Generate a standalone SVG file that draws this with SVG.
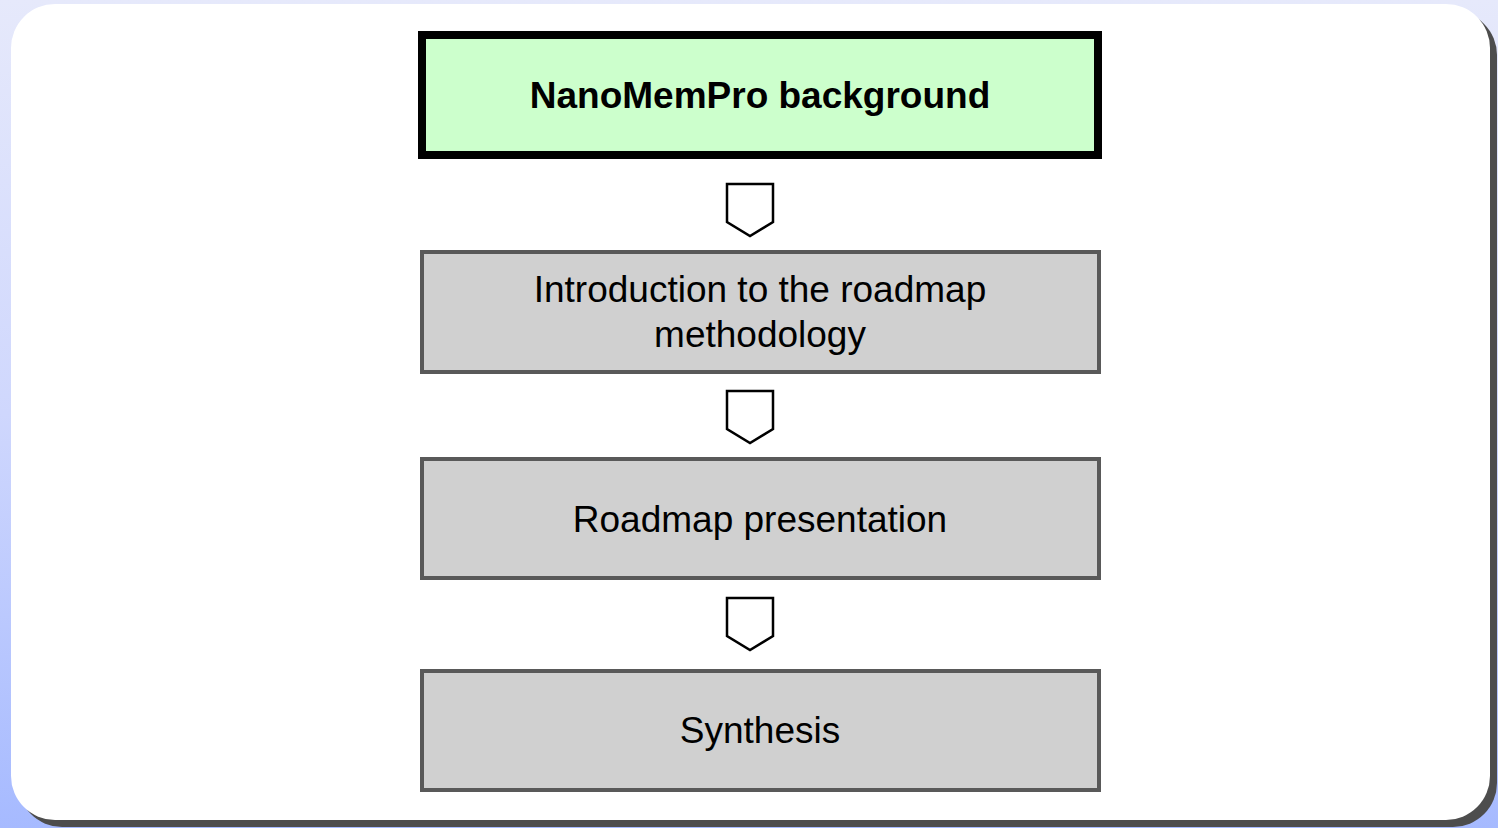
<svg xmlns="http://www.w3.org/2000/svg" width="1498" height="828" viewBox="0 0 1498 828">
<defs>
<linearGradient id="bg" x1="0" y1="0" x2="0" y2="1">
<stop offset="0" stop-color="#e6e9fb"/>
<stop offset="0.5" stop-color="#cfd7fd"/>
<stop offset="1" stop-color="#a6baff"/>
</linearGradient>
<style>
.box{fill:#d0d0d0;stroke:#595959;stroke-width:4}
.t{font-family:"Liberation Sans",Arial,sans-serif;font-size:37px;fill:#000;text-anchor:middle}
.arr{fill:#fff;stroke:#000;stroke-width:2.5;stroke-linejoin:miter}
</style>
</defs>
<rect x="0" y="0" width="1498" height="828" fill="url(#bg)"/>
<rect x="18" y="11" width="1479" height="816" rx="44" fill="#4d4d4d"/>
<rect x="11" y="4" width="1479" height="816" rx="44" fill="#fff"/>
<g id="node-background">
<rect x="422" y="35" width="676" height="120" fill="#ccffcc" stroke="#000" stroke-width="8"/>
<text class="t" x="760" y="108" font-weight="bold">NanoMemPro background</text>
</g>
<g id="node-introduction">
<rect class="box" x="422" y="252" width="677" height="120"/>
<text class="t" x="760" y="302">Introduction to the roadmap</text>
<text class="t" x="760" y="347">methodology</text>
</g>
<g id="node-roadmap">
<rect class="box" x="422" y="459" width="677" height="119"/>
<text class="t" x="760" y="532">Roadmap presentation</text>
</g>
<g id="node-synthesis">
<rect class="box" x="422" y="671" width="677" height="119"/>
<text class="t" x="760" y="743">Synthesis</text>
</g>
<g id="connectors">
<path class="arr" d="M727 184 H773 V222 L750 236 L727 222 Z"/>
<path class="arr" d="M727 391 H773 V429 L750 443 L727 429 Z"/>
<path class="arr" d="M727 598 H773 V636 L750 650 L727 636 Z"/>
</g>
</svg>
